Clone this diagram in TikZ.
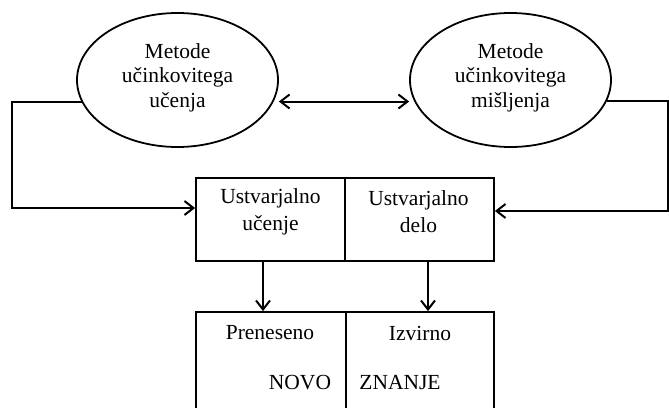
\documentclass[tikz,border=0pt]{standalone}
\usepackage{fontspec}
\setmainfont{Liberation Serif}
\usetikzlibrary{shapes.geometric,arrows.meta}
\begin{document}
\begin{tikzpicture}[x=1pt,y=-1pt,
  line width=2pt,
  oval/.style={ellipse,draw,line width=1.8pt,minimum width=201pt,minimum height=134pt,inner sep=0pt},
  txt/.style={font=\fontsize{21.5}{24.5}\selectfont,align=center,inner sep=0pt},
  txtb/.style={font=\fontsize{21.5}{27}\selectfont,align=center,inner sep=0pt},
  cell/.style={draw,line width=1.8pt,rectangle,minimum height=83pt,inner sep=0pt},
  lowcell/.style={draw,line width=1.8pt,rectangle,minimum height=110pt,inner sep=0pt},
  tip/.tip={Straight Barb[length=9pt,width=14pt,line width=2pt]},
  arr/.style={-tip},
  dbl/.style={tip-tip},
]
\useasboundingbox (0,0) rectangle (669,407);
\clip (0,0) rectangle (669,407);
% ellipses
\node[oval] (L) at (177.5,80) {};
\node[txt] (Lt) at (177.5,77.5) {Metode\\učinkovitega\\učenja};
\node[oval] (R) at (510.5,80) {};
\node[txt] (Rt) at (510.5,77.5) {Metode\\učinkovitega\\mišljenja};
% top cells
\node[cell,minimum width=149pt] (A) at (270.5,219.5) {};
\node[cell,minimum width=149pt] (B) at (419.5,219.5) {};
\node[txtb] (At) at (270.5,212) {Ustvarjalno\\učenje};
\node[txtb] (Bt) at (418.5,212) {Ustvarjalno\\delo};
% bottom cells (open at the bottom)
\node[lowcell,minimum width=150pt] (C) at (271,367) {};
\node[lowcell,minimum width=148pt] (D) at (420,367) {};
\node[txt] (Ct) at (270,333) {Preneseno};
\node[txt] (Dt) at (420,333) {Izvirno};
\node[txt] (Cn) at (300,383) {NOVO};
\node[txt] (Dn) at (400,383) {ZNANJE};
% connectors
\coordinate (m) at (0,101.5);
\draw[dbl] (L.east |- m) -- (R.west |- m);
\coordinate (lc) at (12,208);
\draw[arr] (L.193) -| (lc) -- (lc -| A.west);
\coordinate (rc) at (667.5,211);
\draw[arr] (R.348) -| (rc) -- (rc -| B.east);
\coordinate (d1) at (263,0);
\coordinate (d2) at (428,0);
\draw[arr] (d1 |- A.south) -- (d1 |- C.north);
\draw[arr] (d2 |- B.south) -- (d2 |- D.north);
\end{tikzpicture}
\end{document}
